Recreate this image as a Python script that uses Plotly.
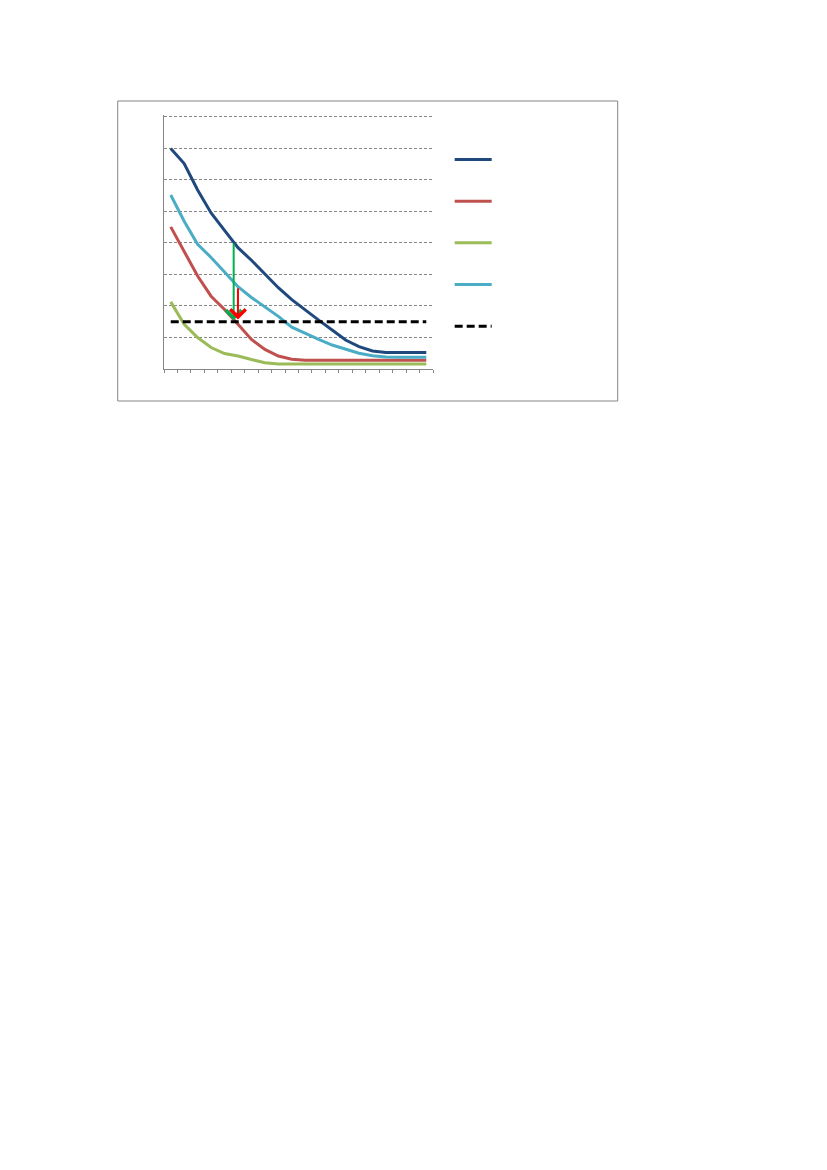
import plotly.graph_objects as go

# 20 steps along the x axis (labels are not shown on the chart)
steps = list(range(1, 21))

series_blue = [7.0, 6.52, 5.68, 4.95, 4.4, 3.85, 3.45, 3.0, 2.58, 2.2,
               1.87, 1.55, 1.24, 0.92, 0.71, 0.57, 0.52, 0.52, 0.52, 0.52]
series_red = [4.51, 3.74, 2.95, 2.31, 1.89, 1.42, 0.94, 0.62, 0.41, 0.31,
              0.28, 0.28, 0.28, 0.28, 0.28, 0.28, 0.28, 0.28, 0.28, 0.28]
series_green = [2.13, 1.42, 1.0, 0.68, 0.49, 0.41, 0.3, 0.2, 0.16, 0.15,
                0.16, 0.16, 0.16, 0.16, 0.16, 0.16, 0.16, 0.16, 0.16, 0.16]
series_cyan = [5.52, 4.69, 3.96, 3.54, 3.08, 2.61, 2.27, 1.97, 1.67, 1.33,
               1.13, 0.94, 0.76, 0.62, 0.5, 0.42, 0.38, 0.37, 0.37, 0.37]
threshold = [1.5] * len(steps)

# arrows drawn on the chart: (x, from value, to value)
green_arrow = (5.68, 4.03, 1.55)
red_arrow = (6.0, 2.61, 1.57)

colors = ['#1F497D', '#C0504D', '#9BBB59', '#4BACC6']
grey = '#868686'

fig = go.Figure()

for i, (vals, col) in enumerate(zip([series_blue, series_red, series_green, series_cyan], colors)):
    fig.add_trace(go.Scatter(
        x=steps, y=vals, mode='lines', name='',
        line=dict(color=col, width=3),
        legendgroup=f'g{i}', hoverinfo='skip'
    ))

fig.add_trace(go.Scatter(
    x=steps, y=threshold, mode='lines', name='',
    line=dict(color='black', width=3, dash='8px,4px'),
    legendgroup='g4', hoverinfo='skip'
))

for (ax_x, y_from, y_to), col in [(green_arrow, '#00B050'), (red_arrow, '#FF0000')]:
    fig.add_annotation(
        x=ax_x, y=y_to, ax=ax_x, ay=y_from,
        xref='x', yref='y', axref='x', ayref='y',
        text='', showarrow=True, arrowhead=4, arrowsize=1.5,
        arrowwidth=2, arrowcolor=col
    )

# outer chart frame
fig.add_shape(type='rect', xref='paper', yref='paper',
              x0=-0.1721, x1=1.6866, y0=-0.126, y1=1.0551,
              line=dict(color=grey, width=1), fillcolor='rgba(0,0,0,0)')

fig.update_xaxes(
    range=[0.5, 20.5], tick0=0.5, dtick=1,
    showgrid=False, zeroline=False,
    showline=True, linecolor=grey, linewidth=1,
    ticks='outside', ticklen=3, tickcolor=grey, tickwidth=1,
    showticklabels=False
)
# a little headroom so the top gridline at 8 is still drawn
fig.update_yaxes(
    range=[0, 8.06], dtick=1,
    showgrid=True, gridcolor=grey, gridwidth=1, griddash='3px,2px',
    zeroline=False, showline=True, linecolor=grey, linewidth=1,
    ticks='', showticklabels=False
)

fig.update_layout(
    width=811, height=1154,
    margin=dict(l=156, r=386, t=107, b=793),
    paper_bgcolor='white', plot_bgcolor='white',
    showlegend=True,
    legend=dict(x=1.062, y=0.882, xanchor='left', yanchor='top',
                tracegroupgap=22.7, itemwidth=37, font=dict(size=12),
                bgcolor='rgba(0,0,0,0)', borderwidth=0),
    font=dict(family='Liberation Sans')
)

fig.write_html("out.html")
